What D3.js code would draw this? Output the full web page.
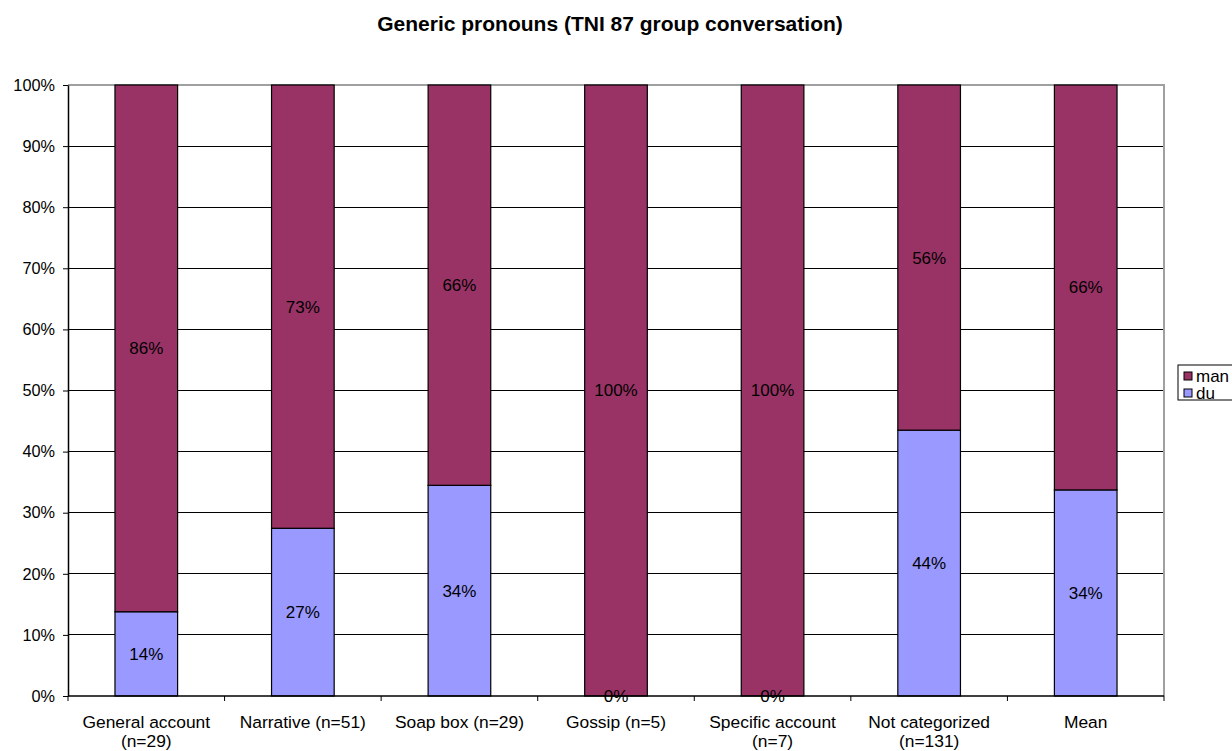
<!DOCTYPE html>
<html>
<head>
<meta charset="utf-8">
<script src="https://cdn.jsdelivr.net/npm/d3@7"></script>
<style>
  html, body { margin: 0; padding: 0; background: #fff; }
  svg { display: block; font-family: Arial, "Liberation Sans", sans-serif; }
</style>
</head>
<body>
<svg id="chart" width="1232" height="751"></svg>
<script>
// Categories (x-axis labels, split into lines)
const categories = [
  ["General account", "(n=29)"],
  ["Narrative (n=51)"],
  ["Soap box (n=29)"],
  ["Gossip (n=5)"],
  ["Specific account", "(n=7)"],
  ["Not categorized", "(n=131)"],
  ["Mean"]
];
// Share of each pronoun per category, in percent
const duValues  = [13.79, 27.45, 34.48, 0, 0, 43.51, 33.73];
const manValues = [86.21, 72.55, 65.52, 100, 100, 56.49, 66.27];
const seriesNames = ["du", "man"];
const yTicks = [0, 10, 20, 30, 40, 50, 60, 70, 80, 90, 100];
const colors = { man: "#993366", du: "#9999FF" };

const svg = d3.select("#chart");
const margin = { left: 68, top: 85, right: 1164, bottom: 696 };
const FONT = "Arial, 'Liberation Sans', sans-serif";

const x = d3.scaleBand()
  .domain(d3.range(categories.length))
  .range([margin.left, margin.right])
  .paddingInner(0.6)
  .paddingOuter(0.3);

const y = d3.scaleLinear().domain([0, 100]).range([margin.bottom, margin.top]);

const rows = categories.map((c, i) => ({ i, du: duValues[i], man: manValues[i] }));
const stacked = d3.stack().keys(seriesNames)(rows);

// Title
svg.append("text")
  .attr("x", 610).attr("y", 31)
  .attr("text-anchor", "middle")
  .attr("font-size", 21).attr("font-weight", "bold")
  .text("Generic pronouns (TNI 87 group conversation)");

// Gridlines
svg.append("g").selectAll("line")
  .data(yTicks.filter(t => t > 0 && t < 100))
  .join("line")
  .attr("x1", margin.left).attr("x2", margin.right)
  .attr("y1", d => y(d)).attr("y2", d => y(d))
  .attr("stroke", "#000").attr("stroke-width", 1)
  .attr("shape-rendering", "crispEdges");

// Plot area frame (top and right in grey)
svg.append("path")
  .attr("d", `M${margin.left},${y(100)}H${margin.right}V${y(0)}`)
  .attr("fill", "none").attr("stroke", "#a0a0a0").attr("stroke-width", 1.5)
  .attr("shape-rendering", "crispEdges");

// Bars
const bars = svg.append("g").selectAll("g")
  .data(stacked).join("g")
  .attr("fill", d => colors[d.key]);
bars.selectAll("rect")
  .data(d => d).join("rect")
  .attr("x", d => x(d.data.i))
  .attr("width", x.bandwidth())
  .attr("y", d => y(d[1]))
  .attr("height", d => y(d[0]) - y(d[1]))
  .attr("stroke", "#000").attr("stroke-width", 1.2);

// Value labels centred in each segment
const fmt = v => Math.round(v) + "%";
svg.append("g").selectAll("g")
  .data(stacked).join("g")
  .selectAll("text")
  .data(d => d.map(s => ({ s, key: d.key })))
  .join("text")
  .attr("x", d => x(d.s.data.i) + x.bandwidth() / 2)
  .attr("y", d => (y(d.s[0]) + y(d.s[1])) / 2)
  .attr("dy", "0.35em")
  .attr("text-anchor", "middle")
  .attr("font-size", 17)
  .attr("fill", "#000")
  .text(d => fmt(d.s.data[d.key]));

// Y axis
const yAxis = svg.append("g")
  .attr("transform", `translate(${margin.left},0)`)
  .call(d3.axisLeft(y).tickValues(yTicks).tickFormat(d => d + "%").tickSize(5).tickSizeOuter(0));
yAxis.select(".domain").attr("stroke", "#000").attr("stroke-width", 1.5);
yAxis.selectAll(".tick line").attr("stroke", "#000");
yAxis.selectAll(".tick text").attr("font-size", 16.3).attr("font-family", FONT).attr("fill", "#000").attr("x", -13);

// X axis baseline with ticks at category boundaries
const boundaries = d3.range(categories.length + 1).map(k => margin.left + k * (margin.right - margin.left) / categories.length);
svg.append("line")
  .attr("x1", margin.left).attr("x2", margin.right)
  .attr("y1", y(0)).attr("y2", y(0))
  .attr("stroke", "#000").attr("stroke-width", 1.5);
svg.append("g").selectAll("line")
  .data(boundaries).join("line")
  .attr("x1", d => d).attr("x2", d => d)
  .attr("y1", y(0)).attr("y2", y(0) + 5)
  .attr("stroke", "#000");

// Category labels
const xl = svg.append("g").selectAll("text")
  .data(categories).join("text")
  .attr("x", (d, i) => x(i) + x.bandwidth() / 2)
  .attr("y", 728)
  .attr("text-anchor", "middle")
  .attr("font-size", 17.4)
  .attr("fill", "#000");
xl.selectAll("tspan")
  .data(d => d).join("tspan")
  .attr("x", function() { return this.parentNode.getAttribute("x"); })
  .attr("dy", (d, j) => j === 0 ? 0 : 19)
  .text(d => d);

// Legend
const legend = svg.append("g").attr("transform", "translate(1178,365)");
legend.append("rect")
  .attr("x", 0).attr("y", 0).attr("width", 70).attr("height", 35)
  .attr("fill", "#fff").attr("stroke", "#000").attr("stroke-width", 1);
["man", "du"].forEach((k, j) => {
  legend.append("rect")
    .attr("x", 6).attr("y", 7 + j * 17).attr("width", 8).attr("height", 8)
    .attr("fill", colors[k]).attr("stroke", "#000").attr("stroke-width", 1);
  legend.append("text")
    .attr("x", 18).attr("y", 11 + j * 17).attr("dy", "0.35em")
    .attr("font-size", 17).attr("fill", "#000")
    .text(k);
});
</script>
</body>
</html>
